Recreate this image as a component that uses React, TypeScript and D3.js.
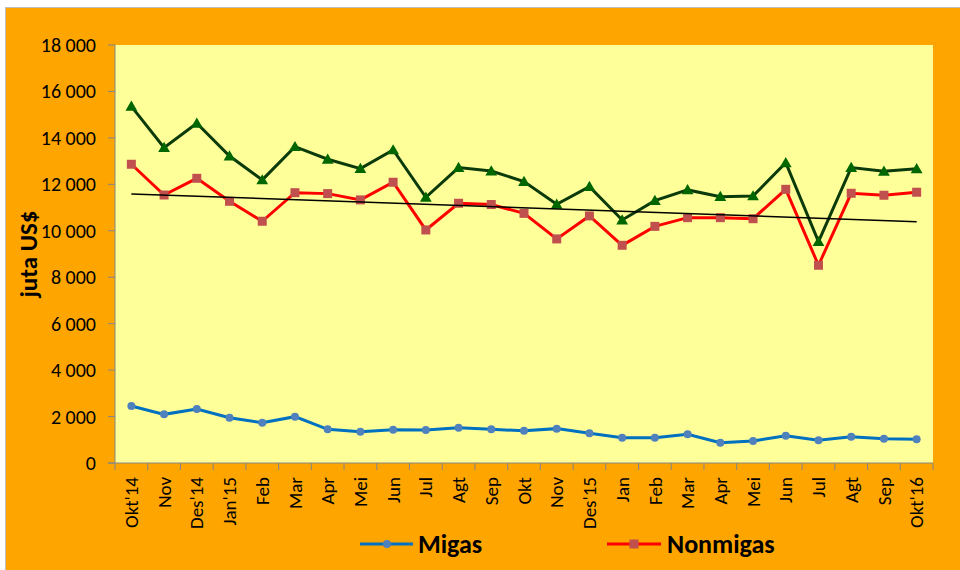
import React from 'react';
import * as d3 from 'd3';

// bulan (Okt 2014 - Okt 2016)
const months = ["Okt'14", 'Nov', "Des'14", "Jan'15", 'Feb', 'Mar', 'Apr', 'Mei', 'Jun', 'Jul', 'Agt', 'Sep', 'Okt',
    'Nov', "Des'15", 'Jan', 'Feb', 'Mar', 'Apr', 'Mei', 'Jun', 'Jul', 'Agt', 'Sep', "Okt'16"];

// total ekspor (juta US$)
const total = [15360, 13580, 14630, 13220, 12190, 13620, 13080, 12675, 13480, 11440, 12720, 12575, 12120,
    11140, 11900, 10465, 11300, 11760, 11470, 11500, 12930, 9530, 12720, 12560, 12670];
const nonmigas = [12865, 11540, 12260, 11270, 10410, 11640, 11600, 11330, 12090, 10035, 11185, 11130, 10750,
    9650, 10640, 9375, 10190, 10565, 10565, 10520, 11785, 8515, 11615, 11530, 11660];
const migas = [2455, 2095, 2325, 1950, 1735, 1995, 1450, 1350, 1435, 1420, 1520, 1450, 1385,
    1480, 1280, 1090, 1090, 1235, 875, 945, 1175, 975, 1135, 1045, 1020];

const yTicks = [0, 2000, 4000, 6000, 8000, 10000, 12000, 14000, 16000, 18000];

const width = 960;
const height = 570;
const marginLeft = 115;
const marginRight = 27;
const marginTop = 45;
const plotBottom = 463;
const font = "Carlito, Calibri, Lato, sans-serif";

const fmt = (v: number) => d3.format(',')(v).replace(/,/g, ' ');

export default function App() {
    const x = d3.scaleBand<number>().domain(d3.range(months.length)).range([marginLeft, width - marginRight]).padding(0);
    const cx = (i: number) => (x(i) as number) + x.bandwidth() / 2;
    const y = d3.scaleLinear().domain([0, 18000]).range([plotBottom, marginTop]);

    const line = d3.line<number>().x((d, i) => cx(i)).y(d => y(d));

    // linear trend on nonmigas
    const idx = d3.range(nonmigas.length);
    const mx = d3.mean(idx) as number;
    const my = d3.mean(nonmigas) as number;
    const slope = d3.sum(idx, i => (i - mx) * (nonmigas[i] - my)) / d3.sum(idx, i => (i - mx) ** 2);
    const icpt = my - slope * mx;
    const last = nonmigas.length - 1;

    const tri = d3.symbol(d3.symbolTriangle, 60)();

    return (
        <div style={{position: 'absolute', left: 0, top: 0}}>
            <svg width={width} height={height} style={{display: 'block'}}>
                <rect x={0} y={0} width={width} height={height} fill="#fff"/>
                <rect x={5.5} y={7.5} width={width} height={height} fill="#FFA500" stroke="#bfbfbf"/>
                <rect x={marginLeft} y={marginTop} width={width - marginRight - marginLeft} height={plotBottom - marginTop}
                      fill="#FFFF99"/>

                {/* y axis */}
                <line x1={marginLeft} x2={marginLeft} y1={marginTop} y2={plotBottom} stroke="#868686"/>
                {yTicks.map(t => (
                    <g key={t}>
                        <line x1={marginLeft - 7} x2={marginLeft} y1={y(t)} y2={y(t)} stroke="#868686"/>
                        <text x={96} y={y(t)} dy="0.35em" textAnchor="end" fontFamily={font} fontSize={20}
                              fill="#000">{fmt(t)}</text>
                    </g>
                ))}
                <text transform={`translate(37,254) rotate(-90)`} textAnchor="middle" fontFamily={font}
                      fontSize={25} fontWeight="bold">juta US$</text>

                {/* x axis */}
                <line x1={marginLeft - 7} x2={width - marginRight} y1={plotBottom} y2={plotBottom} stroke="#868686"/>
                {d3.range(months.length + 1).map(i => {
                    const tx = marginLeft + i * x.bandwidth();
                    return <line key={i} x1={tx} x2={tx} y1={plotBottom} y2={plotBottom + 7} stroke="#868686"/>;
                })}
                {months.map((m, i) => (
                    <text key={i} transform={`translate(${cx(i)},${plotBottom + 14}) rotate(-90)`} textAnchor="end"
                          dy="0.35em" fontFamily={font} fontSize={19}>{m}</text>
                ))}

                {/* total */}
                <path d={line(total) as string} fill="none" stroke="#0B3B0B" strokeWidth={3}/>
                {total.map((v, i) => (
                    <path key={i} d={tri as string} transform={`translate(${cx(i)},${y(v) + 1})`} fill="#006600"/>
                ))}

                {/* nonmigas */}
                <path d={line(nonmigas) as string} fill="none" stroke="#FF0000" strokeWidth={3}/>
                {nonmigas.map((v, i) => (
                    <rect key={i} x={cx(i) - 4.5} y={y(v) - 4.5} width={9} height={9} fill="#C0504D"/>
                ))}

                {/* trend */}
                <line x1={cx(0)} y1={y(icpt)} x2={cx(last)} y2={y(icpt + slope * last)} stroke="#000" strokeWidth={1.5}/>

                {/* migas */}
                <path d={line(migas) as string} fill="none" stroke="#0070C0" strokeWidth={3}/>
                {migas.map((v, i) => (
                    <circle key={i} cx={cx(i)} cy={y(v)} r={4} fill="#4F81BD"/>
                ))}

                {/* legend */}
                <line x1={360} x2={413} y1={544} y2={544} stroke="#0070C0" strokeWidth={3}/>
                <circle cx={387} cy={544} r={4} fill="#4F81BD"/>
                <text x={418} y={553} fontFamily={font} fontSize={26} fontWeight="bold">Migas</text>
                <line x1={607} x2={661} y1={544} y2={544} stroke="#FF0000" strokeWidth={3}/>
                <rect x={629.5} y={539.5} width={9} height={9} fill="#C0504D"/>
                <text x={667} y={553} fontFamily={font} fontSize={26} fontWeight="bold">Nonmigas</text>
            </svg>
        </div>
    );
}
